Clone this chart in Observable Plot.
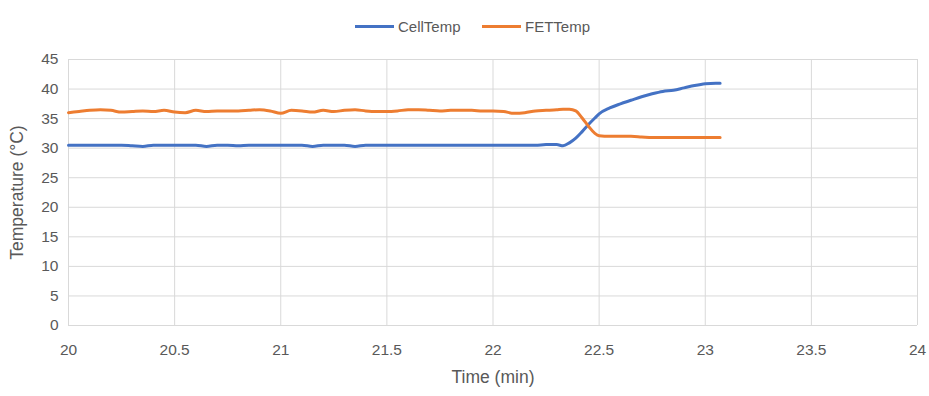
<!DOCTYPE html>
<html>
<head>
<meta charset="utf-8">
<script src="https://cdn.jsdelivr.net/npm/d3@7"></script>
<script src="https://cdn.jsdelivr.net/npm/@observablehq/plot@0.6"></script>
<style>
  body { margin: 0; background: #fff; font-family: "Liberation Sans", Arial, sans-serif; }
  #legend { height: 45px; position: relative; width: 929px; color: #595959; font-size: 15px; }
  .item { position: absolute; top: 18px; display: flex; align-items: center; }
  .sw { width: 39px; height: 3px; margin-right: 4px; }
</style>
</head>
<body>
<div id="legend">
  <div class="item" style="left:355px"><div class="sw" style="background:#4472C4"></div><span>CellTemp</span></div>
  <div class="item" style="left:482px"><div class="sw" style="background:#ED7D31"></div><span>FETTemp</span></div>
</div>
<div id="chart"></div>
<script>
const time = [20.00,20.05,20.10,20.15,20.20,20.25,20.30,20.35,20.40,20.45,20.50,20.55,20.60,20.65,20.70,20.75,20.80,20.85,20.90,20.95,
  21.00,21.05,21.10,21.15,21.20,21.25,21.30,21.35,21.40,21.45,21.50,21.55,21.60,21.65,21.70,21.75,21.80,21.85,21.90,21.95,
  22.00,22.05,22.10,22.15,22.20,22.25,22.30,22.33,22.36,22.39,22.42,22.45,22.48,22.50,22.55,22.60,22.65,22.70,22.75,22.80,
  22.85,22.90,22.95,23.00,23.05,23.07];
const cellTemp = [30.5,30.5,30.5,30.5,30.5,30.5,30.4,30.3,30.5,30.5,30.5,30.5,30.5,30.3,30.5,30.5,30.4,30.5,30.5,30.5,
  30.5,30.5,30.5,30.3,30.5,30.5,30.5,30.3,30.5,30.5,30.5,30.5,30.5,30.5,30.5,30.5,30.5,30.5,30.5,30.5,
  30.5,30.5,30.5,30.5,30.5,30.6,30.6,30.4,30.9,31.7,32.8,34.0,35.1,35.8,36.8,37.5,38.1,38.7,39.2,39.6,
  39.8,40.2,40.6,40.9,41.0,41.0];
const fetTemp = [36.0,36.2,36.4,36.5,36.4,36.1,36.2,36.3,36.2,36.4,36.1,36.0,36.4,36.2,36.3,36.3,36.3,36.4,36.5,36.3,
  35.9,36.4,36.3,36.1,36.4,36.2,36.4,36.5,36.3,36.2,36.2,36.3,36.5,36.5,36.4,36.3,36.4,36.4,36.4,36.3,
  36.3,36.2,35.9,36.0,36.3,36.4,36.5,36.6,36.6,36.3,35.1,33.7,32.5,32.1,32.0,32.0,32.0,31.9,31.8,31.8,
  31.8,31.8,31.8,31.8,31.8,31.8];
const xTicks = [20,20.5,21,21.5,22,22.5,23,23.5,24];
const yTicks = [0,5,10,15,20,25,30,35,40,45];
const seriesNames = ["CellTemp","FETTemp"];
const seriesColors = ["#4472C4","#ED7D31"];

const rows = [];
time.forEach((t,i) => {
  rows.push({t, v: cellTemp[i], s: seriesNames[0]});
  rows.push({t, v: fetTemp[i], s: seriesNames[1]});
});

const chart = Plot.plot({
  width: 929,
  height: 351,
  marginLeft: 68,
  marginRight: 12,
  marginTop: 14,
  marginBottom: 71,
  style: {fontFamily: "'Liberation Sans', Arial, sans-serif", fontSize: "15.5px", color: "#595959", background: "#fff"},
  x: {domain: [20,24]},
  y: {domain: [0,45]},
  color: {domain: seriesNames, range: seriesColors},
  marks: [
    Plot.ruleX(xTicks, {stroke: "#d9d9d9", strokeOpacity: 1, strokeWidth: 1}),
    Plot.ruleY(yTicks, {stroke: "#d9d9d9", strokeOpacity: 1, strokeWidth: 1}),
    Plot.axisX({ticks: xTicks, tickFormat: d => String(d), tickSize: 0, tickPadding: 18, fontSize: 15.5, label: null}),
    Plot.axisY({ticks: yTicks, tickFormat: d => String(d), tickSize: 0, tickPadding: 10, fontSize: 15.5, label: null}),
    Plot.axisX({ticks: [], tickSize: 0, label: "Time (min)", labelAnchor: "center", labelOffset: 57, labelArrow: "none", fontSize: 17.5}),
    Plot.axisY({ticks: [], tickSize: 0, label: "Temperature (°C)", labelAnchor: "center", labelOffset: 58, labelArrow: "none", fontSize: 17.5}),
    Plot.line(rows, {x: "t", y: "v", stroke: "s", z: "s", strokeWidth: 3, curve: "monotone-x"})
  ]
});
document.getElementById("chart").appendChild(chart);
</script>
</body>
</html>
